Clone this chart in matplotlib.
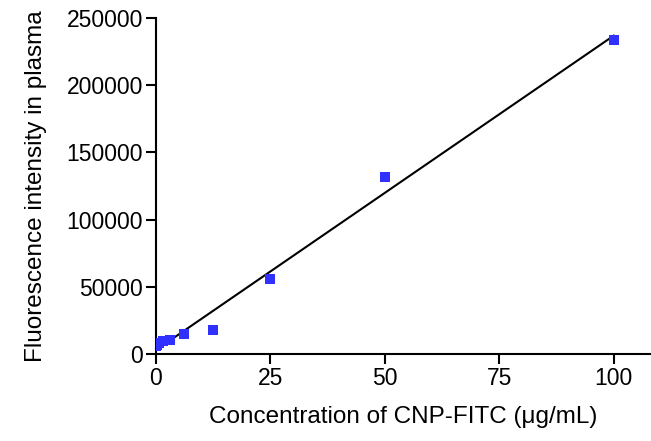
import numpy as np
import matplotlib
matplotlib.use('Agg')
import matplotlib.pyplot as plt

# concentration (ug/mL) and fluorescence intensity
conc = [0.195, 0.39, 0.78, 1.5625, 3.125, 6.25, 12.5, 25, 50, 100]
intensity = [6000, 7000, 8000, 9500, 10500, 15000, 18000, 56000, 132000, 234000]

x_ticks = [0, 25, 50, 75, 100]
y_ticks = [0, 50000, 100000, 150000, 200000, 250000]

plt.rcParams['font.family'] = ['Liberation Sans', 'DejaVu Sans']

fig = plt.figure(figsize=(6.51, 4.41), dpi=100)
ax = fig.add_axes([0.239, 0.197, 0.76, 0.762])

# linear regression over the data range
slope, intercept = np.polyfit(conc, intensity, 1)
xs = np.array([min(conc), max(conc)])
ax.plot(xs, slope * xs + intercept, color='black', lw=1.5, zorder=2)

ax.scatter(conc, intensity, marker='s', s=60, color='#3030ff', zorder=3, linewidths=0)

ax.set_xlim(0, 108)
ax.set_ylim(0, 250000)
ax.set_xticks(x_ticks)
ax.set_yticks(y_ticks)
ax.spines['top'].set_visible(False)
ax.spines['right'].set_visible(False)
for s in ['left', 'bottom']:
    ax.spines[s].set_linewidth(1.5)
ax.tick_params(direction='out', length=7, width=1.5, labelsize=16.5, pad=2)

ax.set_xlabel('Concentration of CNP-FITC (μg/mL)', fontsize=17.5, labelpad=12)
ax.set_ylabel('Fluorescence intensity in plasma', fontsize=17.5, labelpad=14)

fig.savefig('out.png', dpi=100)
